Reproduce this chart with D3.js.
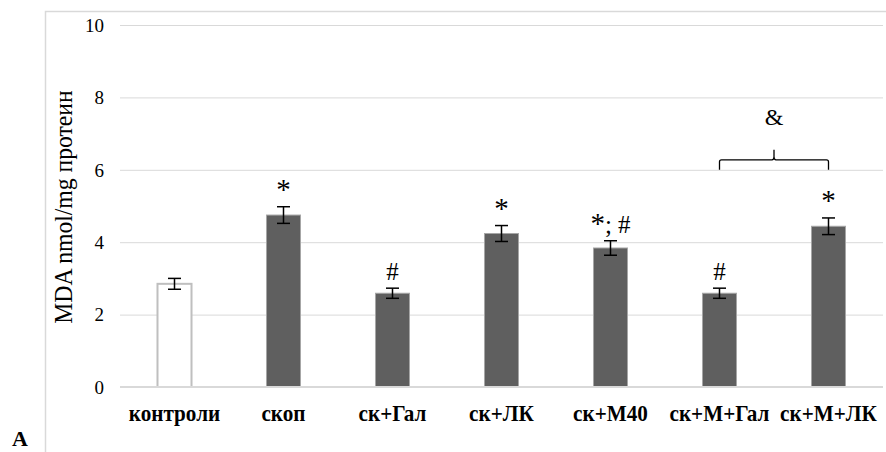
<!DOCTYPE html>
<html><head><meta charset="utf-8">
<script src="https://cdn.jsdelivr.net/npm/d3@7"></script>
<style>body{margin:0;background:#fff}svg{display:block}
.serif{font-family:"Liberation Serif","Times New Roman",Tinos,"DejaVu Serif",serif}</style>
</head><body>
<svg id="chart" width="886" height="452"></svg>
<script>
const categories = ["контроли","скоп","ск+Гал","ск+ЛК","ск+М40","ск+М+Гал","ск+М+ЛК"];
const values = [2.85, 4.75, 2.59, 4.24, 3.84, 2.59, 4.44];
const errors = [0.15, 0.23, 0.14, 0.22, 0.20, 0.14, 0.23];
const marks = ["", "*", "#", "*", "*; #", "#", "*"];
const yTicks = [0, 2, 4, 6, 8, 10];
const bracketGroups = ["ск+М+Гал", "ск+М+ЛК"];
const bracketLabel = "&";
const bracketLevel = 6;
const yTitle = "MDA nmol/mg протеин";
const panelLabel = "A";

const svg = d3.select("#chart");

// condense text horizontally (narrow Times look of the original)
function condense(sel, f) {
  sel.each(function(){
    const w = this.getComputedTextLength();
    if (w > 0) d3.select(this).attr("textLength", w*f).attr("lengthAdjust","spacingAndGlyphs");
  });
}

// outer frame
svg.append("rect").attr("x",45.5).attr("y",11.5).attr("width",900).attr("height",500)
  .attr("fill","none").attr("stroke","#d9d9d9").attr("stroke-width",1.5);

const x = d3.scaleBand().domain(categories).range([120, 883]).paddingInner(0.688).paddingOuter(0.344);
const y = d3.scaleLinear().domain([0, 10]).range([387, 25]);

// gridlines
svg.append("g").selectAll("line").data(yTicks.filter(d=>d>0)).join("line")
  .attr("x1",120).attr("x2",883).attr("y1",d=>y(d)+0.5).attr("y2",d=>y(d)+0.5)
  .attr("stroke","#d9d9d9").attr("stroke-width",1);

// y axis labels
const yAxis = svg.append("g").attr("transform","translate(104,0)")
  .call(d3.axisLeft(y).tickValues(yTicks).tickSize(0).tickPadding(0));
yAxis.select(".domain").remove();
yAxis.attr("font-family",null).attr("font-size",null);
yAxis.selectAll("text").attr("class","serif").style("font-size","19px").attr("fill","#000").attr("dy","0.33em");

// bars
svg.append("g").selectAll("rect").data(categories).join("rect")
  .attr("x",d=>x(d)).attr("width",x.bandwidth())
  .attr("y",(d,i)=>y(values[i])).attr("height",(d,i)=>y(0)-y(values[i]))
  .attr("fill",(d,i)=>i===0?"#ffffff":"#5f5f5f")
  .attr("stroke",(d,i)=>i===0?"#bfbfbf":"#a6a6a6")
  .attr("stroke-width",(d,i)=>i===0?2:1);

// baseline
svg.append("line").attr("x1",120).attr("x2",883).attr("y1",y(0)).attr("y2",y(0))
  .attr("stroke","#d9d9d9").attr("stroke-width",2);

// error bars
const eb = svg.append("g").attr("stroke","#000").attr("stroke-width",1.5);
categories.forEach((c,i)=>{
  const cx = x(c)+x.bandwidth()/2;
  const t = y(values[i]+errors[i]), b = y(values[i]-errors[i]);
  eb.append("line").attr("x1",cx).attr("x2",cx).attr("y1",t).attr("y2",b);
  eb.append("line").attr("x1",cx-6.5).attr("x2",cx+6.5).attr("y1",t).attr("y2",t);
  eb.append("line").attr("x1",cx-6.5).attr("x2",cx+6.5).attr("y1",b).attr("y2",b);
});

// significance marks (asterisks drawn a bit larger, as in the original)
svg.append("g").selectAll("text").data(categories).join("text")
  .attr("class","serif")
  .attr("x",d=>x(d)+x.bandwidth()/2)
  .attr("y",(d,i)=>y(values[i]+errors[i]) - (marks[i]==="#"?8:8))
  .attr("text-anchor","middle").style("font-size","25px")
  .each(function(d,i){
    const t = d3.select(this);
    marks[i].split("").forEach(ch=>{
      t.append("tspan").style("font-size", ch==="*" ? "29px" : null).text(ch);
    });
  });

// bracket
const bx1 = x(bracketGroups[0])+x.bandwidth()/2, bx2 = x(bracketGroups[1])+x.bandwidth()/2;
const by = y(bracketLevel), bm = (bx1+bx2)/2;
const p = d3.path();
p.moveTo(bx1, by); p.lineTo(bx1, by-8); p.quadraticCurveTo(bx1, by-10, bx1+2, by-10);
p.lineTo(bm-2, by-10); p.quadraticCurveTo(bm, by-10, bm, by-13); p.lineTo(bm, by-20);
p.moveTo(bm, by-13); p.quadraticCurveTo(bm, by-10, bm+2, by-10);
p.lineTo(bx2-2, by-10); p.quadraticCurveTo(bx2, by-10, bx2, by-8); p.lineTo(bx2, by);
svg.append("path").attr("d",p.toString()).attr("fill","none").attr("stroke","#000").attr("stroke-width",1.3);
svg.append("text").attr("class","serif").attr("x",bm).attr("y",by-45).attr("text-anchor","middle")
  .style("font-size","24px").text(bracketLabel);

// category labels
svg.append("g").selectAll("text").data(categories).join("text")
  .attr("class","serif")
  .attr("x",d=>x(d)+x.bandwidth()/2).attr("y",421)
  .attr("text-anchor","middle").style("font-weight","bold")
  .style("font-size","23px").text(d=>d)
  .call(condense, 0.92);

// y title
svg.append("text").attr("class","serif").attr("transform","translate(72,207) rotate(-90)")
  .attr("text-anchor","middle").style("font-size","26px").text(yTitle)
  .call(condense, 0.91);

// panel label
svg.append("text").attr("class","serif").attr("x",12).attr("y",446).style("font-weight","bold")
  .style("font-size","22px").text(panelLabel);
</script>
</body></html>
